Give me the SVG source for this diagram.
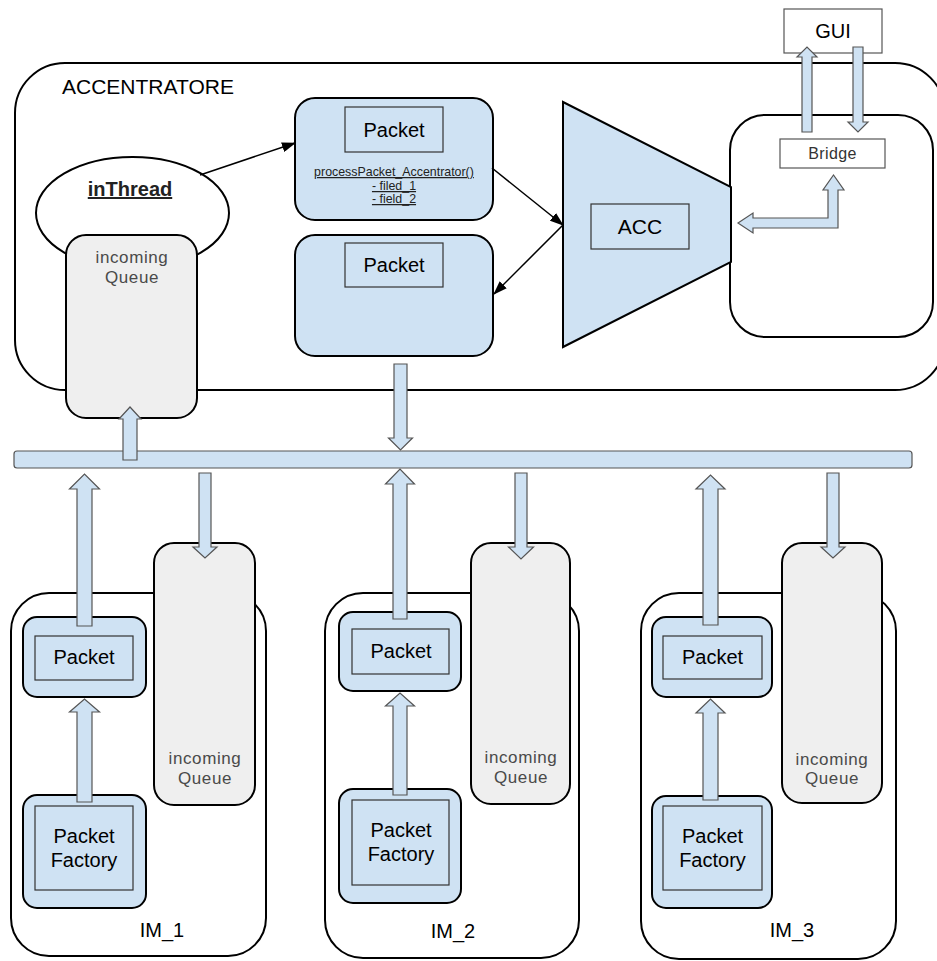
<svg xmlns="http://www.w3.org/2000/svg" width="937" height="961" viewBox="0 0 937 961">
  <style>
    .frame{fill:#fff;stroke:#000;stroke-width:2}
    .box{fill:#cfe2f3;stroke:#000;stroke-width:2}
    .inner{fill:#cfe2f3;stroke:#333;stroke-width:1.2}
    .plain{fill:#fff;stroke:#555;stroke-width:1.2}
    .queue{fill:#efefef;stroke:#000;stroke-width:2}
    .barrow{fill:#cfe2f3;stroke:#555;stroke-width:1.2}
    .link{fill:none;stroke:#000;stroke-width:1.5;marker-end:url(#head)}
    text{font-family:"Liberation Sans",Arial,Helvetica,sans-serif;fill:#000}
    .lbl{font-size:20px;text-anchor:middle}
    .q{font-size:17px;fill:#4a4a4a;letter-spacing:0.6px;text-anchor:middle}
    .small{font-size:12.4px;text-anchor:middle;text-decoration:underline;fill:#222}
  </style>
  <defs>
    <marker id="head" markerUnits="userSpaceOnUse" markerWidth="14" markerHeight="10" refX="13" refY="5" orient="auto">
      <path d="M0,0 L14,5 L0,10 Z" fill="#000"/>
    </marker>
  </defs>

  <!-- ACCENTRATORE container -->
  <g id="accentratore">
    <rect class="frame" x="15" y="63" width="930" height="327" rx="50"/>
    <text x="62" y="94" style="font-size:21px">ACCENTRATORE</text>
  </g>

  <!-- GUI -->
  <g id="gui">
    <rect class="plain" x="784" y="9" width="98" height="44"/>
    <text class="lbl" x="833" y="38">GUI</text>
  </g>

  <!-- Bridge container -->
  <g id="bridge-host">
    <rect class="frame" x="730" y="115" width="203" height="222" rx="35"/>
  </g>
  <g id="bridge">
    <rect class="plain" x="780" y="139" width="105" height="29"/>
    <text x="832.5" y="159" style="font-size:16px;text-anchor:middle;fill:#333;letter-spacing:0.4px">Bridge</text>
  </g>

  <!-- inThread -->
  <g id="inthread">
    <ellipse class="frame" cx="132.5" cy="213" rx="96.5" ry="56"/>
    <text x="130" y="196" style="font-size:20px;font-weight:bold;text-anchor:middle;text-decoration:underline;fill:#222">inThread</text>
  </g>

  <!-- incoming queue of the concentrator -->
  <g id="acc-queue">
    <rect class="queue" x="66" y="235" width="131" height="183" rx="20"/>
    <text class="q" x="132" y="263">incoming</text>
    <text class="q" x="132" y="283">Queue</text>
  </g>

  <!-- Packet with processing method -->
  <g id="packet-process">
    <rect class="box" x="295" y="98" width="198" height="122" rx="20"/>
    <rect class="inner" x="345" y="107" width="98" height="45"/>
    <text class="lbl" x="394" y="137">Packet</text>
    <text class="small" x="394" y="176">processPacket_Accentrator()</text>
    <text class="small" x="394" y="190">- filed_1</text>
    <text class="small" x="394" y="203">- field_2</text>
  </g>

  <!-- Outgoing packet -->
  <g id="packet-out">
    <rect class="box" x="295" y="235" width="198" height="121" rx="20"/>
    <rect class="inner" x="345" y="243" width="98" height="44"/>
    <text class="lbl" x="394" y="272">Packet</text>
  </g>

  <!-- ACC -->
  <g id="acc">
    <polygon points="563,102 731,187 731,262 563,347" fill="#cfe2f3" stroke="#000" stroke-width="2" stroke-linejoin="miter"/>
    <rect class="inner" x="591" y="204" width="98" height="45"/>
    <text class="lbl" x="640" y="234" style="font-size:21px">ACC</text>
  </g>

  <!-- Bus -->
  <g id="bus">
    <rect x="14" y="451" width="898" height="17" rx="3" fill="#cfe2f3" stroke="#555" stroke-width="1.2"/>
  </g>

  <!-- IM_1 -->
  <g id="im1">
    <rect class="frame" x="11" y="593" width="255" height="363" rx="38"/>
    <rect class="box" x="23" y="617" width="123" height="80" rx="14"/>
    <rect class="inner" x="35" y="636" width="98" height="44"/>
    <text class="lbl" x="84" y="664">Packet</text>
    <rect class="box" x="23" y="795" width="123" height="113" rx="14"/>
    <rect class="inner" x="35" y="806" width="98" height="84"/>
    <text class="lbl" x="84" y="843">Packet</text>
    <text class="lbl" x="84" y="867">Factory</text>
    <rect class="queue" x="154" y="543" width="101" height="262" rx="20"/>
    <text class="q" x="205" y="764">incoming</text>
    <text class="q" x="205" y="784">Queue</text>
    <text class="lbl" x="162" y="937">IM_1</text>
  </g>

  <!-- IM_2 -->
  <g id="im2">
    <rect class="frame" x="325" y="593" width="254" height="365" rx="38"/>
    <rect class="box" x="339" y="612" width="122" height="79" rx="14"/>
    <rect class="inner" x="352" y="629" width="97" height="45"/>
    <text class="lbl" x="401" y="658">Packet</text>
    <rect class="box" x="339" y="789" width="122" height="114" rx="14"/>
    <rect class="inner" x="352" y="800" width="97" height="85"/>
    <text class="lbl" x="401" y="837">Packet</text>
    <text class="lbl" x="401" y="861">Factory</text>
    <rect class="queue" x="471" y="543" width="99" height="261" rx="20"/>
    <text class="q" x="521" y="763">incoming</text>
    <text class="q" x="521" y="783">Queue</text>
    <text class="lbl" x="453" y="938">IM_2</text>
  </g>

  <!-- IM_3 -->
  <g id="im3">
    <rect class="frame" x="641" y="593" width="255" height="366" rx="38"/>
    <rect class="box" x="652" y="617" width="120" height="80" rx="14"/>
    <rect class="inner" x="663" y="636" width="99" height="43"/>
    <text class="lbl" x="712.5" y="664">Packet</text>
    <rect class="box" x="652" y="796" width="120" height="112" rx="14"/>
    <rect class="inner" x="663" y="806" width="99" height="84"/>
    <text class="lbl" x="712.5" y="843">Packet</text>
    <text class="lbl" x="712.5" y="867">Factory</text>
    <rect class="queue" x="782" y="543" width="100" height="260" rx="20"/>
    <text class="q" x="832" y="765">incoming</text>
    <text class="q" x="832" y="784">Queue</text>
    <text class="lbl" x="792" y="937">IM_3</text>
  </g>

  <!-- Connectors -->
  <g id="connectors">
    <!-- thin flow arrows -->
    <line class="link" x1="200" y1="175" x2="295" y2="143"/>
    <line class="link" x1="492" y1="168" x2="563" y2="225"/>
    <line class="link" x1="563" y1="225" x2="494" y2="294"/>

    <!-- GUI <-> Bridge -->
    <path class="barrow" d="M802,132 L802,57 L797,57 L807,47 L817,57 L812,57 L812,132 Z"/>
    <path class="barrow" d="M853,47 L853,122 L848,122 L858,132 L868,122 L863,122 L863,47 Z"/>
    <!-- Bridge <-> ACC -->
    <path class="barrow" d="M838,228 L753,228 L753,233 L738,223 L753,213 L753,218 L828,218 L828,190 L823,190 L833.5,175 L844,190 L838,190 Z"/>

    <!-- bus -> concentrator queue -->
    <path class="barrow" d="M123,460 L123,419 L119,419 L130,407 L141,419 L137,419 L137,460 Z"/>
    <!-- outgoing packet -> bus -->
    <path class="barrow" d="M394,364 L394,438 L388.5,438 L400.5,450 L412.5,438 L407,438 L407,364 Z"/>

    <!-- IM_1 -->
    <path class="barrow" d="M77,626 L77,489 L69.5,489 L84.5,474 L99.5,489 L92,489 L92,626 Z"/>
    <path class="barrow" d="M199,473 L199,547 L193,547 L205,558 L217,547 L211,547 L211,473 Z"/>
    <path class="barrow" d="M77,802 L77,712 L69.5,712 L84.5,699 L99.5,712 L92,712 L92,802 Z"/>

    <!-- IM_2 -->
    <path class="barrow" d="M393,619 L393,484 L385.5,484 L400,469 L414.5,484 L407,484 L407,619 Z"/>
    <path class="barrow" d="M515,473 L515,547 L508.5,547 L521,559 L533.5,547 L527,547 L527,473 Z"/>
    <path class="barrow" d="M393,795 L393,706 L385.5,706 L400,693 L414.5,706 L407,706 L407,795 Z"/>

    <!-- IM_3 -->
    <path class="barrow" d="M703,625 L703,489 L696,489 L710.5,475 L725,489 L718,489 L718,625 Z"/>
    <path class="barrow" d="M827,473 L827,547 L821,547 L833,558 L845,547 L839,547 L839,473 Z"/>
    <path class="barrow" d="M703,800 L703,713 L696,713 L710.5,699 L725,713 L718,713 L718,800 Z"/>
  </g>
</svg>
